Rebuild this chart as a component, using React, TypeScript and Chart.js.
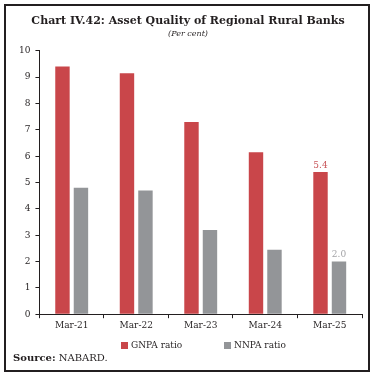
import React, { useEffect, useRef } from "react";
import { Chart, registerables } from "chart.js";

Chart.register(...registerables);

const categories = ["Mar-21", "Mar-22", "Mar-23", "Mar-24", "Mar-25"];
const gnpaRatio = [9.4, 9.15, 7.3, 6.15, 5.4];
const nnpaRatio = [4.8, 4.7, 3.2, 2.45, 2.0];
const seriesNames = ["GNPA ratio", "NNPA ratio"];
const labelledCategory = "Mar-25";
const yTicksMax = 10;

const RED = "#C9464A";
const GREY = "#939598";
const INK = "#231F20";
const FONT = "'DejaVu Serif', serif";

const valueLabels = {
  id: "valueLabels",
  afterDatasetsDraw(chart: any) {
    const ctx = chart.ctx;
    const idx = categories.indexOf(labelledCategory);
    const colors = ["#C9565A", "#A3A3A6"];
    chart.data.datasets.forEach((ds: any, di: number) => {
      const el = chart.getDatasetMeta(di).data[idx];
      if (!el) return;
      ctx.save();
      ctx.font = `9px ${FONT}`;
      ctx.fillStyle = colors[di];
      ctx.textAlign = "center";
      ctx.textBaseline = "bottom";
      ctx.fillText(Number(ds.data[idx]).toFixed(1), el.x, el.y - 2);
      ctx.restore();
    });
  },
};

export default function App() {
  const ref = useRef<HTMLCanvasElement | null>(null);
  useEffect(() => {
    if (!ref.current) return;
    const chart = new Chart(ref.current, {
      type: "bar",
      data: {
        labels: categories,
        datasets: [
          { label: seriesNames[0], data: gnpaRatio, backgroundColor: RED },
          { label: seriesNames[1], data: nnpaRatio, backgroundColor: GREY },
        ],
      },
      options: {
        responsive: false,
        animation: false,
        layout: { padding: { top: 4, left: 14, right: 11, bottom: 42 } },
        datasets: { bar: { categoryPercentage: 0.573, barPercentage: 0.78 } } as any,
        plugins: {
          legend: { display: false },
          tooltip: { enabled: false },
          title: {
            display: true,
            text: "Chart IV.42: Asset Quality of Regional Rural Banks",
            color: INK,
            font: { family: FONT, size: 11, weight: "bold" },
            padding: { top: 11, bottom: 0 },
          },
          subtitle: {
            display: true,
            text: "(Per cent)",
            color: INK,
            font: { family: FONT, size: 8, style: "italic" },
            padding: { top: 1, bottom: 12 },
          },
        },
        scales: {
          x: {
            grid: { drawOnChartArea: false, drawTicks: true, tickLength: 4, color: INK, offset: true },
            border: { color: INK, width: 1 },
            ticks: { color: INK, font: { family: FONT, size: 9 }, padding: 2 },
          },
          y: {
            min: 0,
            max: yTicksMax,
            grid: { drawOnChartArea: false, drawTicks: true, tickLength: 4, color: INK },
            border: { color: INK, width: 1 },
            ticks: { stepSize: 1, color: INK, font: { family: FONT, size: 9 }, padding: 5 },
          },
        },
      },
      plugins: [valueLabels],
    });
    return () => chart.destroy();
  }, []);

  const legendColors = [RED, GREY];
  const legendLefts = [121, 224];

  return (
    <div style={{ position: "fixed", left: 0, top: 0, width: 373, height: 375, background: "#fff", overflow: "hidden" }}>
      <div
        style={{
          position: "absolute",
          left: 4,
          top: 4,
          width: 362,
          height: 364,
          border: `2px solid ${INK}`,
        }}
      />
      <canvas ref={ref} width={373} height={375} style={{ position: "absolute", left: 0, top: 0 }} />
      {seriesNames.map((name, i) => (
        <div
          key={name}
          style={{
            position: "absolute",
            left: legendLefts[i],
            top: 339,
            display: "flex",
            alignItems: "center",
            fontFamily: FONT,
            fontSize: 9,
            color: INK,
            lineHeight: "12px",
          }}
        >
          <span style={{ display: "inline-block", width: 7, height: 7, background: legendColors[i], marginRight: 3 }} />
          <span>{name}</span>
        </div>
      ))}
      <div
        style={{
          position: "absolute",
          left: 13,
          top: 351,
          fontFamily: FONT,
          fontSize: 10,
          color: INK,
          lineHeight: "14px",
          whiteSpace: "nowrap",
        }}
      >
        <b>Source:</b> NABARD.
      </div>
    </div>
  );
}
